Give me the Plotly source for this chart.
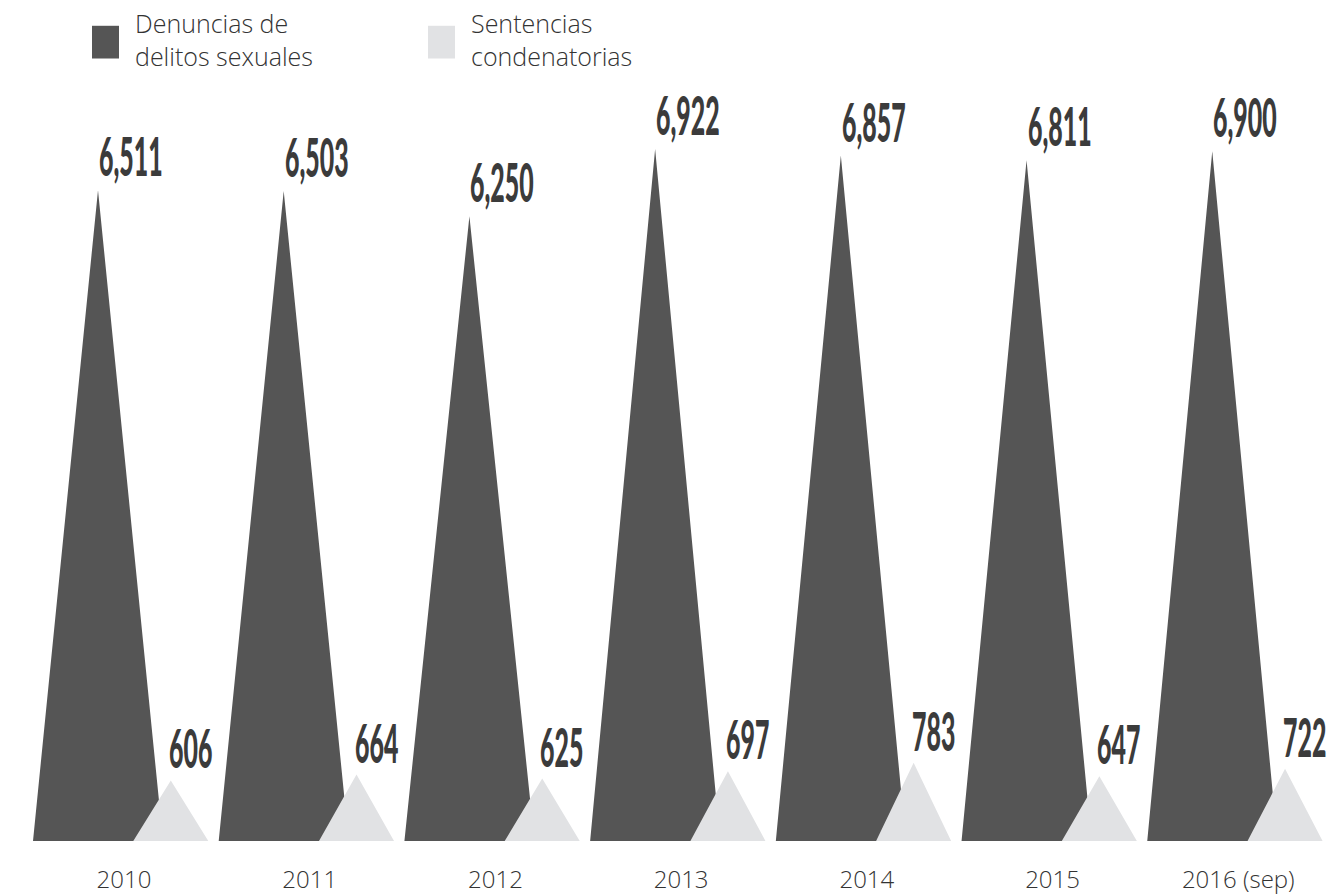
import plotly.graph_objects as go

years = ["2010", "2011", "2012", "2013", "2014", "2015", "2016 (sep)"]
denuncias = [6511, 6503, 6250, 6922, 6857, 6811, 6900]
sentencias = [606, 664, 625, 697, 783, 647, 722]

DARK = "#555555"
LIGHT = "#e1e2e4"
LABEL = "#3b3b3b"

dark_off, dark_hw = -0.140, 0.350
light_off, light_hw = 0.252, 0.202


def triangles(values, off, hw):
    xs, ys = [], []
    for i, v in enumerate(values):
        c = i + off
        xs += [c - hw, c, c + hw, c - hw, None]
        ys += [0, v, 0, 0, None]
    return xs, ys


fig = go.Figure()
xd, yd = triangles(denuncias, dark_off, dark_hw)
fig.add_trace(go.Scatter(x=xd, y=yd, mode="lines", fill="toself", fillcolor=DARK,
                         line=dict(width=0, color=DARK), hoverinfo="skip",
                         showlegend=False, name="Denuncias de delitos sexuales"))
xl, yl = triangles(sentencias, light_off, light_hw)
fig.add_trace(go.Scatter(x=xl, y=yl, mode="lines", fill="toself", fillcolor=LIGHT,
                         line=dict(width=0, color=LIGHT), hoverinfo="skip",
                         showlegend=False, name="Sentencias condenatorias"))

label_font = dict(family="Lato, Liberation Sans, Arial", size=53, color=LABEL, weight=900)
for i, v in enumerate(denuncias):
    fig.add_annotation(x=i + dark_off, y=v, text=f"{v:,}", showarrow=False,
                       xanchor="left", yanchor="bottom", xshift=-1, yshift=1,
                       font=label_font)
for i, v in enumerate(sentencias):
    fig.add_annotation(x=i + light_off, y=v, text=f"{v:,}", showarrow=False,
                       xanchor="left", yanchor="bottom", xshift=-4, yshift=-1,
                       font=label_font)

# Legend (manual)
W, PH = 1330, 848


def px_x(p):
    return p / W


def px_y(p):
    return (PH - p) / PH


legend_items = [("Denuncias de<br>delitos sexuales", DARK, 92, 135),
                ("Sentencias<br>condenatorias", LIGHT, 428, 471)]
for text, col, sx, tx in legend_items:
    fig.add_shape(type="rect", xref="paper", yref="paper",
                  x0=px_x(sx), x1=px_x(sx + 27), y0=px_y(59), y1=px_y(26),
                  fillcolor=col, line=dict(width=0))
    fig.add_annotation(xref="paper", yref="paper", x=px_x(tx - 2), y=px_y(40),
                       text=text, showarrow=False, xanchor="left", yanchor="middle",
                       align="left",
                       font=dict(family="Open Sans, Lato", size=25, color="#333333",
                                 weight=300))

fig.update_layout(
    width=1330, height=895,
    margin=dict(l=0, r=0, t=0, b=47),
    paper_bgcolor="white", plot_bgcolor="white",
    xaxis=dict(range=[-0.6677, 6.494], tickvals=list(range(len(years))), ticktext=years,
               showgrid=False, zeroline=False, showline=False, ticks="outside",
               ticklen=17, tickcolor="rgba(0,0,0,0)",
               tickfont=dict(family="Open Sans, Lato", size=24, color="#333333", weight=300),
               fixedrange=True),
    yaxis=dict(range=[0, 8413], visible=False, fixedrange=True),
    showlegend=False,
)

post = """
document.body.style.margin = '0px';
document.querySelectorAll('.annotation-text').forEach(function (t) {
  if (/^[0-9,]+$/.test(t.textContent)) {
    t.style.transformBox = 'fill-box';
    t.style.transformOrigin = '0% 100%';
    t.style.transform = 'scaleX(0.47)';
  }
});
"""

fig.write_html("out.html", config={"displayModeBar": False}, post_script=post)
